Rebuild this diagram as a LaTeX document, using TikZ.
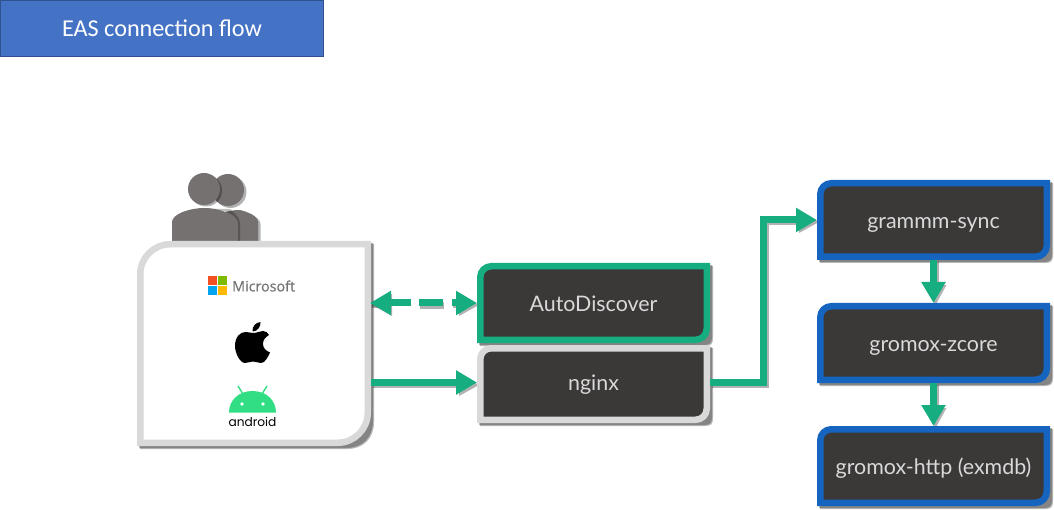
\documentclass[tikz,border=0pt]{standalone}
\usepackage{fontspec}
\setmainfont{Lato}
\newfontfamily\titlefont{Carlito}
\newfontfamily\msfont[FakeBold=0.35]{Open Sans}
\newfontfamily\androidfont{Poppins}
\usetikzlibrary{arrows.meta,calc}
\definecolor{flowgreen}{HTML}{16AD81}
\definecolor{frameblue}{HTML}{1565C0}
\definecolor{framegray}{HTML}{D9D9D9}
\definecolor{boxdark}{HTML}{3B3838}
\definecolor{boxtext}{HTML}{D9D9D9}
\definecolor{titleblue}{HTML}{4472C4}
\definecolor{titleedge}{HTML}{2F528F}
\definecolor{persongray}{HTML}{767171}
\definecolor{droid}{HTML}{32DE84}
\newcommand\lift{17}
\tikzset{
  x=1pt,y=-1pt,
  boxlabel/.style={inner sep=0pt,outer sep=0pt,rectangle,text=boxtext,text height=\lift pt,text depth=0pt,font=\fontsize{21.4}{25}\selectfont},
  frame/.style={line width=6.5pt,miter limit=10},
  softshadow/.style={fill=black,fill opacity=.28,draw=none},
  flow/.style={draw=flowgreen,line width=7pt,-{Triangle[length=21pt,width=23pt,fill=flowgreen]}},
  flowboth/.style={draw=flowgreen,line width=7pt,{Triangle[length=21pt,width=23pt,fill=flowgreen]}-{Triangle[length=21pt,width=23pt,fill=flowgreen]}},
  flowsh/.style={draw=black,draw opacity=.3,line width=7pt},
  person/.style={fill=persongray,draw=none},
}
% outline with rounded top-left and bottom-right corners
\newcommand\dcpath[5]{({#1+#5},#2) -- (#3,#2) -- (#3,{#4-#5}) .. controls (#3,{#4-.45*#5}) and ({#3-.45*#5},#4) .. ({#3-#5},#4) -- (#1,#4) -- (#1,{#2+#5}) .. controls (#1,{#2+.45*#5}) and ({#1+.45*#5},#2) .. ({#1+#5},#2) -- cycle}
% name, outer x0,y0,x1,y1, colour, radius, fill, text
\newcommand\dcbox[9]{%
  \fill[softshadow] \dcpath{#2+3}{#3+3}{#4+3}{#5+3}{#7+3};
  \fill[softshadow] \dcpath{#2+2}{#3+2}{#4+2}{#5+2}{#7+3};
  \draw[frame,draw=#6,fill=#8] \dcpath{#2+3.25}{#3+3.25}{#4-3.25}{#5-3.25}{#7};
  \node[boxlabel,minimum width={(#4-#2)*1pt},minimum height={(#5-#3)*1pt}] (#1) at ({(#2+#4)/2},{(#3+#5)/2}) {#9};
}
\begin{document}
\begin{tikzpicture}
\useasboundingbox (0,0) rectangle (1054,510);
\fill[white] (0,0) rectangle (1054,510);

% title
\node[draw=titleedge,fill=titleblue,line width=.8pt,minimum width=323pt,minimum height=56pt,inner sep=0pt,text=white,font=\titlefont\fontsize{24.2}{28}\selectfont] (title) at (162,28) {EAS connection flow};

% people
\begin{scope}[shift={(2.5,2)},opacity=.3]
  \fill[black] (228,190) circle[radius=16];
  \fill[black] (212,245) -- (212,219) .. controls (222,211) and (234,210) .. (240,210) .. controls (248,212) and (258,216) .. (258,222) -- (258,245) -- cycle;
\end{scope}
\fill[person] (228,190) circle[radius=16];
\fill[person] (212,245) -- (212,219) .. controls (222,211) and (234,210) .. (240,210) .. controls (248,212) and (258,216) .. (258,222) -- (258,245) -- cycle;
\begin{scope}[shift={(2,1.5)},opacity=.3]
  \fill[black] (204,189) circle[radius=16];
\end{scope}
\fill[person] (204,189) circle[radius=16];
\fill[black,opacity=.25] (238,245) -- (238,224) .. controls (238,216) and (228,211) .. (214,209) -- (230,209) .. controls (236,214) and (240,218) .. (240,224) -- (240,245) -- cycle;
\fill[person] (172,245) -- (172,222) .. controls (172,214) and (190,208) .. (204,208) .. controls (220,208) and (236,214) .. (236,225) -- (236,245) -- cycle;

% client card
\dcbox{card}{137}{241}{371}{446}{framegray}{30}{white}{}

% Microsoft logo
\fill[fill={rgb,255:red,242;green,80;blue,34}] (208,276) rectangle (217,285);
\fill[fill={rgb,255:red,127;green,186;blue,0}] (218,276) rectangle (227,285);
\fill[fill={rgb,255:red,0;green,164;blue,239}] (208,286) rectangle (217,295);
\fill[fill={rgb,255:red,255;green,185;blue,0}] (218,286) rectangle (227,295);
\node[inner sep=0pt,anchor=west,text={rgb,255:red,115;green,115;blue,115},font=\msfont\fontsize{14.3}{16}\selectfont] (mslabel) at (232,286) {Microsoft};

% Apple logo
\begin{scope}[shift={(235,322)}]
  \fill[black] (17.5,9.5) .. controls (17,4) and (21,0.5) .. (25.5,0) .. controls (26,5) and (22,9.5) .. (17.5,9.5) -- cycle;
  \fill[black] (18,11) .. controls (22,11) and (25,9) .. (28,9) .. controls (31,9) and (33,11) .. (34,13) .. controls (30,15.5) and (28,18) .. (28,22) .. controls (28,26) and (31,29) .. (35,30.5) .. controls (33,35) and (30,41) .. (26,41) .. controls (23,41) and (21.5,39.5) .. (18,39.5) .. controls (15,39.5) and (13,41) .. (10,41) .. controls (5,41) and (0,31) .. (0,24) .. controls (0,15) and (5,10) .. (10.5,10) .. controls (13.5,10) and (16,11) .. (18,11) -- cycle;
\end{scope}

% Android logo
\draw[droid,line width=1.4pt] (238,386) -- (243,394);
\draw[droid,line width=1.4pt] (267,386) -- (262,394);
\fill[droid] (229,412.5) .. controls (229,400) and (239,391) .. (252.5,391) .. controls (266,391) and (276,400) .. (276,412.5) -- cycle;
\fill[white] (242,404) circle[radius=1.9];
\fill[white] (263,404) circle[radius=1.9];
\node[inner sep=0pt,text=black,font=\androidfont\fontsize{12.2}{14}\selectfont] (droidlabel) at (252.5,422) {android};

% connector shadows are drawn before the boxes
\draw[flowsh] (372,305) -- (391,305);
\fill[black,opacity=.3] (372,305) -- (392,294) -- (392,316) -- cycle;
\draw[flowsh] (420,305.5) -- (444,305.5);
\draw[flowsh] (453,305) -- (460,305);
\fill[black,opacity=.3] (479,305) -- (459,294) -- (459,316) -- cycle;
\draw[flowsh] (373,384.5) -- (460,384.5);
\fill[black,opacity=.3] (479,385) -- (459,374) -- (459,396) -- cycle;
\draw[flowsh,line join=miter] (712,384.5) -- (765.5,384.5) -- (765.5,221.5) -- (800,221.5);
\fill[black,opacity=.3] (819,222) -- (799,211) -- (799,233) -- cycle;
\draw[flowsh] (935.5,262) -- (935.5,285);
\fill[black,opacity=.3] (935.5,305) -- (924.5,285) -- (946.5,285) -- cycle;
\draw[flowsh] (935.5,385) -- (935.5,408);
\fill[black,opacity=.3] (935.5,428) -- (924.5,408) -- (946.5,408) -- cycle;

% boxes
\dcbox{auto}{477}{263}{710}{343}{flowgreen}{11}{boxdark}{AutoDiscover}
\renewcommand\lift{12.5}
\dcbox{nginx}{477}{345}{710}{423}{framegray}{11}{boxdark}{nginx}
\renewcommand\lift{17}
\dcbox{gsync}{817}{180}{1050}{260}{frameblue}{11}{boxdark}{grammm-sync}
\dcbox{zcore}{817}{303}{1050}{383}{frameblue}{11}{boxdark}{gromox-zcore}
\dcbox{ghttp}{817}{426}{1050}{506}{frameblue}{11}{boxdark}{gromox-http (exmdb)}

% connectors
\draw[flowboth,dash pattern=on 21pt off 8pt on 24pt off 9pt on 12pt] ($(card.east |- auto.west)+(-1,0)$) -- (auto.west);
\draw[flow] ($(card.east |- nginx.west)+(0,-1.5)$) -- ($(nginx.west)+(0,-1.5)$);
\draw[flow,line join=miter] ($(nginx.east)+(0,-1.5)$) -- ++(53.5,0) |- (gsync.west);
\draw[flow] (gsync.south) -- (zcore.north);
\draw[flow] (zcore.south) -- (ghttp.north);
\end{tikzpicture}
\end{document}
